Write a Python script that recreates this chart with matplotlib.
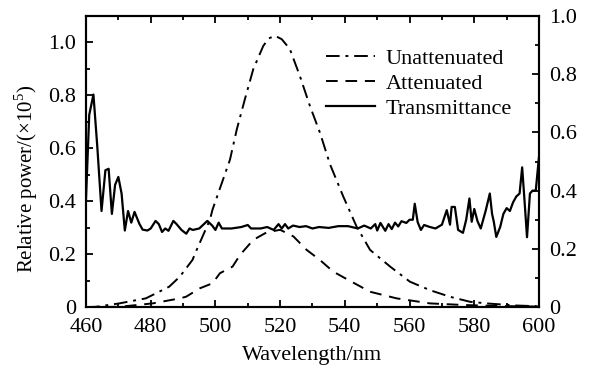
import matplotlib
matplotlib.use('Agg')
import matplotlib.pyplot as plt
from matplotlib.ticker import MultipleLocator, FuncFormatter

# Unattenuated spectrum (left axis, x10^5)
wl_un = [460, 463, 470.3, 478.5, 485.7, 489, 492.9, 494.2, 498.3, 499.1, 504.5, 506.6,
         509.1, 511.7, 514.8, 516.5, 518.4, 520.5, 523, 526.1, 529.2, 532.3, 535.4,
         539.5, 543.6, 547.8, 554, 560.1, 566.3, 572.5, 578.7, 584.8, 593, 600]
p_un = [0.0, 0.001, 0.014, 0.033, 0.077, 0.115, 0.178, 0.216, 0.33, 0.368, 0.557, 0.671,
        0.785, 0.899, 0.987, 1.015, 1.025, 1.012, 0.975, 0.873, 0.76, 0.659, 0.54,
        0.418, 0.305, 0.216, 0.153, 0.096, 0.064, 0.039, 0.02, 0.013, 0.006, 0.003]

# Attenuated spectrum (left axis, x10^5)
wl_at = [460, 470.3, 480.6, 489, 490.9, 495.2, 499.1, 501.4, 505.3, 507.6, 511.7, 515.8,
         520, 524.1, 528.2, 532.3, 536.4, 541.6, 547.8, 556, 566.3, 576.5, 588, 600]
p_at = [0.0, 0.001, 0.014, 0.033, 0.039, 0.071, 0.09, 0.128, 0.153, 0.197, 0.254, 0.282,
        0.292, 0.267, 0.216, 0.178, 0.134, 0.099, 0.058, 0.033, 0.014, 0.008, 0.004, 0.002]

# Transmittance (right axis)
wl_tr = [460, 461, 462.3, 463.5, 464.8, 466, 467, 468, 469, 470, 471, 472, 473, 474, 475,
         476.5, 477.5, 479, 480, 481.5, 482.5, 483.5, 484.5, 485.5, 487, 488, 489.5, 491,
         492, 493, 495, 497.5, 499, 500, 501, 502, 505, 508, 510, 511, 514, 516, 518,
         519.5, 520.5, 521.5, 522.5, 524, 526, 528, 530, 532, 535, 538, 541, 544, 546,
         548, 549.4, 550, 551, 552.5, 553.5, 554.5, 555.5, 556.5, 557.5, 559, 560, 561,
         561.6, 562.5, 563.5, 564.5, 566, 568, 570, 571.5, 572.5, 573, 574, 575, 576.5,
         577.5, 578.5, 579.2, 580, 581, 582, 583.5, 584.8, 585.5, 586, 586.8, 588, 589,
         590, 591, 592, 593, 594, 594.8, 595.5, 596.3, 597.2, 598, 599, 600]
tr = [0.37, 0.66, 0.73, 0.55, 0.33, 0.47, 0.475, 0.32, 0.42, 0.447, 0.39, 0.263, 0.33,
      0.29, 0.327, 0.286, 0.266, 0.263, 0.27, 0.296, 0.285, 0.258, 0.27, 0.262, 0.296,
      0.285, 0.265, 0.252, 0.27, 0.265, 0.27, 0.296, 0.28, 0.265, 0.29, 0.27, 0.27, 0.275,
      0.282, 0.27, 0.27, 0.275, 0.265, 0.285, 0.27, 0.285, 0.27, 0.28, 0.275, 0.278, 0.27,
      0.275, 0.272, 0.278, 0.278, 0.27, 0.28, 0.27, 0.285, 0.263, 0.289, 0.262, 0.285,
      0.268, 0.29, 0.277, 0.295, 0.289, 0.30, 0.30, 0.355, 0.292, 0.265, 0.282, 0.276,
      0.27, 0.283, 0.333, 0.283, 0.344, 0.344, 0.265, 0.255, 0.30, 0.373, 0.293, 0.337,
      0.295, 0.27, 0.33, 0.39, 0.32, 0.295, 0.241, 0.275, 0.32, 0.34, 0.33, 0.36, 0.38,
      0.39, 0.48, 0.37, 0.24, 0.39, 0.40, 0.40, 0.516]

plt.rcParams['font.family'] = ['Liberation Serif', 'DejaVu Serif']
plt.rcParams['mathtext.fontset'] = 'custom'
plt.rcParams['mathtext.rm'] = 'Liberation Serif'
plt.rcParams['font.size'] = 16

fig = plt.figure(figsize=(5.91, 3.70), dpi=100)
ax = fig.add_axes([0.1455, 0.170, 0.7665, 0.787])
ax2 = ax.twinx()

l1, = ax.plot(wl_un, p_un, color='black', lw=1.4, linestyle=(0, (7, 3, 1.5, 3)))
l2, = ax.plot(wl_at, p_at, color='black', lw=1.4, linestyle=(0, (6, 4)))
l3, = ax2.plot(wl_tr, tr, color='black', lw=1.6)

ax.set_xlim(460, 600)
ax.set_ylim(0, 1.1)
ax2.set_ylim(0, 1.0)

fmt = FuncFormatter(lambda v, p: '0' if abs(v) < 1e-9 else f'{v:.1f}')
for a in (ax, ax2):
    a.yaxis.set_major_locator(MultipleLocator(0.2))
    a.yaxis.set_minor_locator(MultipleLocator(0.1))
    a.yaxis.set_major_formatter(fmt)
    for s in a.spines.values():
        s.set_linewidth(1.5)
ax.xaxis.set_major_locator(MultipleLocator(20))
ax.xaxis.set_minor_locator(MultipleLocator(10))
ax.tick_params(axis='both', which='both', direction='in', top=True, width=1.3)
ax.tick_params(axis='both', which='major', length=5)
ax.tick_params(axis='both', which='minor', length=3)
ax.tick_params(axis='y', pad=7)
ax.tick_params(axis='x', pad=8)
ax2.tick_params(axis='y', which='both', direction='in', width=1.3, pad=7)
ax2.tick_params(axis='y', which='major', length=5)
ax2.tick_params(axis='y', which='minor', length=3)

ax.set_xlabel('Wavelength/nm', labelpad=6)
ax.set_ylabel(r'Relative power/($\times$10$^5$)', fontsize=15)
ax.yaxis.set_label_coords(-0.102, 0.44)

ax2.legend([l1, l2, l3], ['Unattenuated', 'Attenuated', 'Transmittance'],
           loc='upper right', bbox_to_anchor=(0.985, 0.958), frameon=False,
           handlelength=2.2, handletextpad=0.5, labelspacing=0.2, fontsize=16)

fig.savefig('out.png', dpi=100)
